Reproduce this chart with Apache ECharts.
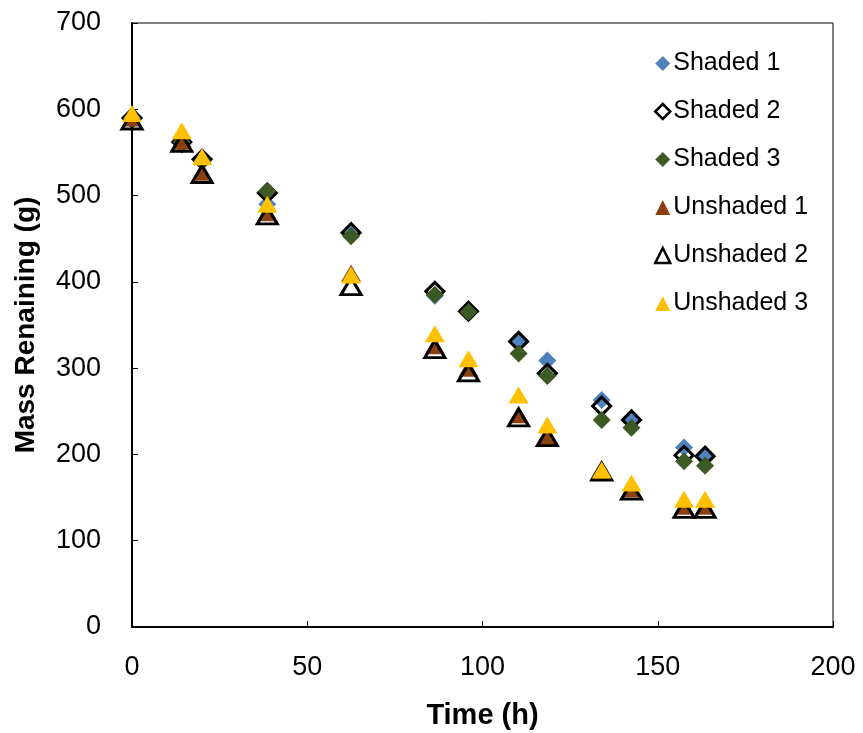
<!DOCTYPE html>
<html>
<head>
<meta charset="utf-8">
<script src="https://cdn.jsdelivr.net/npm/echarts@6/dist/echarts.min.js"></script>
<style>
  html, body { margin: 0; padding: 0; background: #fff; }
  #chart { width: 863px; height: 733px; }
</style>
</head>
<body>
<div id="chart"></div>
<script>
// Sampling times (h)
const times = [0, 14.2, 20, 38.6, 62.5, 86.4, 96, 110.3, 118.5, 134, 142.5, 157.5, 163.5];

// Mass remaining (g) for each plot
const shaded1   = [590, 560, 540, 490, 455, 384, 365, 333, 309, 263, 242, 208, 199];
const shaded2   = [590, 562, 542, 503, 457, 389, 366, 331, 294, 256, 240, 199, 198];
const shaded3   = [590, 562, 540, 505, 453, 385, 365, 317, 291, 240, 231, 192, 187];
const unshaded1 = [590, 563, 527, 480, 410, 326, 300, 246, 220, 180, 160, 140, 140];
const unshaded2 = [587, 561, 525, 477, 395, 322, 295, 243, 220, 180, 158, 137, 137];
const unshaded3 = [595, 575, 545, 490, 408, 340, 311, 269, 234, 182, 167, 148, 148];

const xTicks = [0, 50, 100, 150, 200];
const yTicks = [0, 100, 200, 300, 400, 500, 600, 700];

const FONT = 'Liberation Sans';

function pairs(vals) {
  return times.map((t, i) => [t, vals[i]]);
}

function makeSeries(name, vals, symbol, size, style) {
  return {
    name: name,
    type: 'scatter',
    data: pairs(vals),
    symbol: symbol,
    symbolSize: size,
    itemStyle: Object.assign({ opacity: 1 }, style),
    emphasis: { disabled: true }
  };
}

const diamond = [18, 18];
const tri = [20, 17];
const hollow = { color: 'rgba(255,255,255,0)', borderColor: '#000', borderWidth: 3 };

const chart = echarts.init(document.getElementById('chart'), null, { renderer: 'canvas' });
chart.setOption({
  animation: false,
  backgroundColor: '#ffffff',
  grid: {
    left: 132, top: 23, right: 30, bottom: 106,
    outerBoundsMode: 'none',
    containLabel: false,
    show: true, borderColor: '#000', borderWidth: 1, backgroundColor: 'transparent'
  },
  legend: {
    orient: 'vertical',
    left: 649, top: 46,
    itemGap: 23,
    itemWidth: 15, itemHeight: 15,
    textStyle: { fontFamily: FONT, fontSize: 25, color: '#000', padding: [0, 0, 0, -2] },
    data: [
      { name: 'Shaded 1', icon: 'diamond', itemStyle: { color: '#4F81BD' } },
      { name: 'Shaded 2', icon: 'diamond', itemStyle: { color: '#ffffff', borderColor: '#000', borderWidth: 2.5 } },
      { name: 'Shaded 3', icon: 'diamond', itemStyle: { color: '#3D5A24' } },
      { name: 'Unshaded 1', icon: 'triangle', itemStyle: { color: '#8B4010' } },
      { name: 'Unshaded 2', icon: 'triangle', itemStyle: { color: '#ffffff', borderColor: '#000', borderWidth: 2.5 } },
      { name: 'Unshaded 3', icon: 'triangle', itemStyle: { color: '#FFC000' } }
    ]
  },
  xAxis: {
    type: 'value', min: 0, max: 200, interval: 50,
    name: 'Time (h)', nameLocation: 'middle', nameGap: 74,
    nameTextStyle: { fontFamily: FONT, fontSize: 29, fontWeight: 'bold', color: '#000' },
    axisLine: { show: true, onZero: false, lineStyle: { color: '#000', width: 2 } },
    axisTick: { show: true, inside: true, length: 6, lineStyle: { color: '#000', width: 1 } },
    axisLabel: {
      fontFamily: FONT, fontSize: 27, color: '#000', margin: 27,
      formatter: v => xTicks.includes(v) ? String(v) : ''
    },
    splitLine: { show: false }
  },
  yAxis: {
    type: 'value', min: 0, max: 700, interval: 100,
    name: 'Mass Renaining (g)', nameLocation: 'middle', nameGap: 92,
    nameTextStyle: { fontFamily: FONT, fontSize: 28, fontWeight: 'bold', color: '#000' },
    axisLine: { show: true, onZero: false, lineStyle: { color: '#000', width: 2 } },
    axisTick: { show: true, inside: true, length: 6, lineStyle: { color: '#000', width: 1 } },
    axisLabel: {
      fontFamily: FONT, fontSize: 27, color: '#000', margin: 31,
      formatter: v => yTicks.includes(v) ? String(v) : ''
    },
    splitLine: { show: false }
  },
  series: [
    makeSeries('Shaded 1', shaded1, 'diamond', diamond, { color: '#4F81BD' }),
    makeSeries('Shaded 2', shaded2, 'diamond', diamond, hollow),
    makeSeries('Shaded 3', shaded3, 'diamond', diamond, { color: '#3D5A24' }),
    makeSeries('Unshaded 1', unshaded1, 'triangle', tri, { color: '#8B4010' }),
    makeSeries('Unshaded 2', unshaded2, 'triangle', tri, hollow),
    makeSeries('Unshaded 3', unshaded3, 'triangle', tri, { color: '#FFC000' })
  ]
});
</script>
</body>
</html>
